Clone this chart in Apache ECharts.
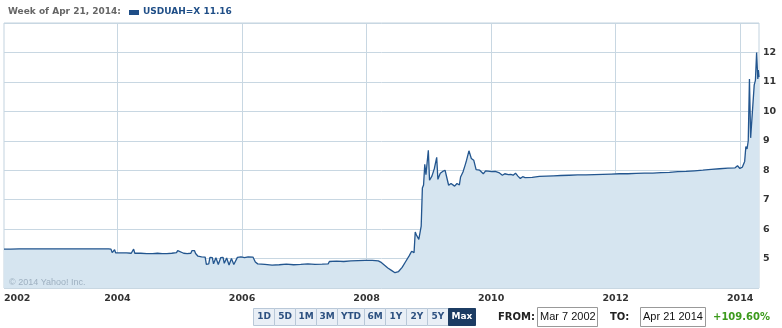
<!DOCTYPE html>
<html><head><meta charset="utf-8">
<script src="https://cdn.jsdelivr.net/npm/echarts@6/dist/echarts.min.js"></script>
<style>html,body{margin:0;padding:0;background:#fff}#c{width:782px;height:328px}</style>
</head><body><div id="c"></div>
<script>
// ---- data ----
const weeks = ['2002-03-07','2002-04-15','2002-06-03','2002-08-05','2002-10-07','2002-12-02','2003-02-03','2003-04-07','2003-06-02','2003-08-04','2003-10-06','2003-11-10','2003-11-24','2003-12-01','2003-12-08','2003-12-15','2003-12-22','2004-01-19','2004-02-23','2004-03-22','2004-04-05','2004-04-12','2004-05-17','2004-06-21','2004-07-26','2004-08-23','2004-09-20','2004-10-18','2004-11-15','2004-12-13','2004-12-20','2004-12-27','2005-01-24','2005-02-14','2005-03-07','2005-03-14','2005-03-28','2005-04-04','2005-04-18','2005-04-25','2005-05-09','2005-05-30','2005-06-06','2005-06-20','2005-06-27','2005-07-11','2005-07-18','2005-08-01','2005-08-15','2005-08-29','2005-09-12','2005-09-19','2005-10-03','2005-10-17','2005-10-31','2005-11-14','2005-11-21','2005-12-05','2005-12-26','2006-01-16','2006-02-06','2006-03-06','2006-03-20','2006-04-03','2006-05-15','2006-06-26','2006-08-07','2006-09-18','2006-10-30','2006-12-11','2007-01-22','2007-03-05','2007-04-16','2007-05-21','2007-05-28','2007-07-09','2007-08-20','2007-10-01','2007-11-12','2007-12-24','2008-02-04','2008-03-10','2008-03-24','2008-04-14','2008-05-05','2008-05-26','2008-06-16','2008-07-07','2008-07-28','2008-08-18','2008-09-08','2008-09-22','2008-10-06','2008-10-13','2008-10-20','2008-11-03','2008-11-17','2008-11-24','2008-12-01','2008-12-08','2008-12-15','2008-12-29','2009-01-05','2009-01-19','2009-02-02','2009-02-16','2009-02-23','2009-03-09','2009-03-23','2009-04-06','2009-04-13','2009-04-27','2009-05-11','2009-05-18','2009-06-01','2009-06-15','2009-06-29','2009-07-06','2009-07-20','2009-08-03','2009-08-10','2009-08-24','2009-09-07','2009-09-21','2009-10-05','2009-10-26','2009-11-02','2009-11-16','2009-11-30','2009-12-14','2010-01-04','2010-01-25','2010-02-15','2010-03-08','2010-03-22','2010-04-12','2010-04-26','2010-05-10','2010-05-24','2010-06-07','2010-06-21','2010-07-05','2010-07-19','2010-08-30','2010-10-11','2010-11-22','2011-01-03','2011-02-14','2011-04-04','2011-05-23','2011-07-11','2011-08-29','2011-10-17','2011-12-05','2012-01-23','2012-03-12','2012-04-30','2012-06-18','2012-08-06','2012-09-24','2012-11-12','2012-12-31','2013-02-18','2013-04-08','2013-05-27','2013-07-15','2013-09-02','2013-10-21','2013-12-02','2013-12-16','2013-12-30','2014-01-13','2014-01-27','2014-02-03','2014-02-10','2014-02-17','2014-02-24','2014-03-03','2014-03-10','2014-03-24','2014-03-31','2014-04-07','2014-04-14','2014-04-17','2014-04-21'];
const rates = [5.32,5.32,5.33,5.33,5.33,5.33,5.33,5.33,5.33,5.33,5.33,5.33,5.32,5.2,5.19,5.3,5.19,5.19,5.19,5.18,5.32,5.18,5.18,5.17,5.17,5.18,5.17,5.17,5.18,5.2,5.27,5.21,5.18,5.17,5.18,5.27,5.27,5.17,5.08,5.05,5.06,5.05,4.8,4.82,5.04,5.03,4.82,5.03,4.8,5.03,5.04,4.84,5.02,4.78,5.0,4.8,4.77,5.04,5.06,5.03,5.06,5.05,4.88,4.82,4.8,4.78,4.79,4.81,4.79,4.8,4.82,4.8,4.81,4.82,4.9,4.91,4.9,4.92,4.93,4.94,4.94,4.92,4.88,4.78,4.68,4.6,4.52,4.56,4.7,4.9,5.1,5.25,5.2,5.9,5.8,5.65,6.1,7.4,7.5,8.2,7.85,8.68,7.66,7.8,8.05,8.44,7.69,7.9,7.96,8.0,7.83,7.49,7.55,7.57,7.46,7.55,7.5,7.77,7.94,8.2,8.34,8.66,8.4,8.34,8.02,8.0,7.95,7.88,7.98,7.97,7.95,7.96,7.92,7.83,7.88,7.85,7.86,7.83,7.9,7.8,7.72,7.78,7.75,7.76,7.79,7.8,7.81,7.82,7.83,7.84,7.84,7.85,7.86,7.87,7.88,7.88,7.89,7.9,7.9,7.92,7.93,7.95,7.96,7.98,8.0,8.03,8.05,8.07,8.08,8.15,8.06,8.1,8.3,8.8,8.72,9.0,11.1,9.1,9.7,10.9,11.05,12.0,11.1,11.4,11.16];
const yearTicks = [2004, 2006, 2008, 2010, 2012, 2014];
const rangeButtons = ['1D','5D','1M','3M','YTD','6M','1Y','2Y','5Y','Max'];
const headerDate = 'Week of Apr 21, 2014:';
const headerSeries = 'USDUAH=X 11.16';
const fromText = 'Mar 7 2002', toText = 'Apr 21 2014', changeText = '+109.60%';

function decYear(s) {
  const [y, m, d] = s.split('-').map(Number);
  const start = Date.UTC(y, 0, 1), end = Date.UTC(y + 1, 0, 1);
  return y + (Date.UTC(y, m - 1, d) - start) / (end - start);
}
const xs = weeks.map(decYear);
const seriesData = xs.map((x, i) => [x, rates[i]]);
const xMin = xs[0], xMax = xs[xs.length - 1];

const FONT = 'DejaVu Sans';
const chart = echarts.init(document.getElementById('c'));

// footer buttons
const btnEls = [];
let bx = 253;
rangeButtons.forEach(b => {
  const w = b.length === 3 ? 27 : 21;
  const sel = b === 'Max';
  btnEls.push({type: 'rect', shape: {x: bx + 0.5, y: 308.5, width: w, height: 17},
    style: {fill: sel ? '#1c3c63' : '#e9eff6', stroke: sel ? '#1c3c63' : '#b9c8d8', lineWidth: 1}});
  btnEls.push({type: 'text', x: bx + 0.5 + w / 2, y: 317,
    style: {text: b, fill: sel ? '#ffffff' : '#2d5181', font: 'bold 9px ' + FONT, align: 'center', verticalAlign: 'middle'}});
  bx += w;
});

chart.setOption({
  animation: false,
  grid: {left: 4, right: 23, top: 23, bottom: 40, show: true, borderColor: '#c3d3df', borderWidth: 1, containLabel: false},
  xAxis: {
    type: 'value', min: xMin, max: xMax,
    axisLine: {show: false},
    axisTick: {show: false, customValues: yearTicks},
    splitLine: {show: true, lineStyle: {color: '#c8d7e2', width: 1}},
    axisLabel: {customValues: [xMin].concat(yearTicks), formatter: v => String(Math.floor(v)),
      color: '#333', fontFamily: FONT, fontWeight: 'bold', fontSize: 9.5, margin: 6, alignMinLabel: 'left'}
  },
  yAxis: {
    type: 'value', position: 'right', min: 4, max: 13, interval: 1,
    axisLine: {show: false}, axisTick: {show: false},
    splitLine: {lineStyle: {color: '#c8d7e2', width: 1}},
    axisLabel: {showMinLabel: false, showMaxLabel: false, color: '#333', fontFamily: FONT, fontWeight: 'bold', fontSize: 9.5, margin: 4}
  },
  series: [{
    type: 'line', data: seriesData, showSymbol: false, symbol: 'none',
    lineStyle: {color: '#23568f', width: 1.3},
    areaStyle: {color: '#d6e5f0', opacity: 1, origin: 'start'}
  }],
  graphic: [
    {type: 'text', left: 8, top: 7, style: {text: headerDate, fill: '#666', font: 'bold 9px ' + FONT}},
    {type: 'rect', shape: {x: 129, y: 10, width: 10, height: 5}, style: {fill: '#1f4e87'}},
    {type: 'text', left: 143, top: 7, style: {text: headerSeries, fill: '#1f4e87', font: 'bold 9px ' + FONT}},
    {type: 'text', x: 9, y: 283, z: 100, style: {text: '© 2014 Yahoo! Inc.', fill: '#9eb0c0', font: '9px "Liberation Sans"', verticalAlign: 'middle'}},
    {type: 'group', children: btnEls},
    {type: 'text', x: 498, y: 317, style: {text: 'FROM:', fill: '#222', font: 'bold 10px ' + FONT, verticalAlign: 'middle'}},
    {type: 'rect', shape: {x: 537.5, y: 307.5, width: 60, height: 19}, style: {fill: '#fff', stroke: '#999', lineWidth: 1}},
    {type: 'text', x: 540, y: 317, style: {text: fromText, fill: '#111', font: '11px "Liberation Sans"', verticalAlign: 'middle'}},
    {type: 'text', x: 610, y: 317, style: {text: 'TO:', fill: '#222', font: 'bold 10px ' + FONT, verticalAlign: 'middle'}},
    {type: 'rect', shape: {x: 640.5, y: 307.5, width: 65, height: 19}, style: {fill: '#fff', stroke: '#999', lineWidth: 1}},
    {type: 'text', x: 643, y: 317, style: {text: toText, fill: '#111', font: '11px "Liberation Sans"', verticalAlign: 'middle'}},
    {type: 'text', x: 713, y: 317, style: {text: changeText, fill: '#3c9a1c', font: 'bold 10px ' + FONT, verticalAlign: 'middle'}}
  ]
});
</script></body></html>
